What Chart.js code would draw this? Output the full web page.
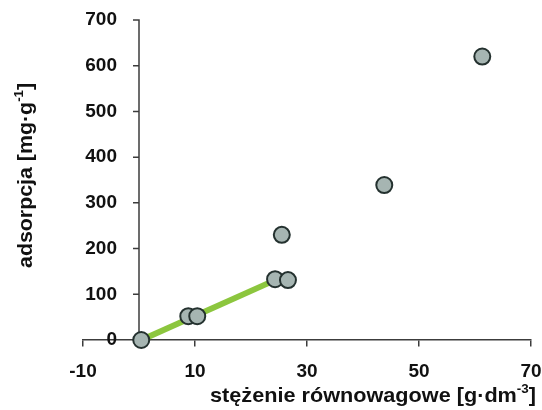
<!DOCTYPE html>
<html><head><meta charset="utf-8">
<script src="https://cdn.jsdelivr.net/npm/chart.js@4"></script>
<style>html,body{margin:0;padding:0;background:#fff}#wrap{width:542px;height:410px;position:relative}</style>
</head><body><div id="wrap"><canvas id="c"></canvas></div>
<script>
const xValues = [0.4, 8.8, 10.4, 24.3, 25.5, 26.6, 43.8, 61.3];
const yValues = [0, 52, 52, 133, 230, 131, 339, 620];
const fitX = [0.4, 24.3];
const fitY = [0, 131];
const xTicks = [-10, 10, 30, 50, 70];
const yTicks = [0, 100, 200, 300, 400, 500, 600, 700];
const xTitle = ['stężenie równowagowe [g·dm', '-3', ']'];
const yTitle = ['adsorpcja [mg·g', '-1', ']'];

const FONT = '"Liberation Sans", Arial, sans-serif';
const axisColor = '#3c3c3c';
const tickFont = { family: FONT, size: 19, weight: 'bold' };

function drawRich(ctx, segs, size, targetW) {
  const big = 'bold ' + size + 'px ' + FONT;
  const small = 'bold ' + Math.round(size * 0.6) + 'px ' + FONT;
  const widths = segs.map((s, i) => { ctx.font = (i === 1 ? small : big); return ctx.measureText(s).width; });
  const total = widths.reduce((a, b) => a + b, 0);
  const sx = targetW / total;
  ctx.scale(sx, 1);
  let x = 0;
  segs.forEach((s, i) => {
    ctx.font = (i === 1 ? small : big);
    ctx.fillText(s, x, i === 1 ? -size * 0.42 : 0);
    x += widths[i];
  });
}

// move the y labels next to x = 0
function placeLabels(chart) {
  const y = chart.scales.y;
  const px = chart.scales.x.getPixelForValue(0);
  if (!y || !isFinite(px)) return;
  y.right = px;
  y.left = px - 60;
  y._labelItems = null;
}

const crossPlugin = {
  id: 'cross',
  afterLayout(chart) { placeLabels(chart); },
  beforeDraw(chart) { placeLabels(chart); },
  beforeDatasetsDraw(chart) {
    // y axis line and tick marks at x = 0, from the library's scales
    const ctx = chart.ctx, xs = chart.scales.x, ys = chart.scales.y;
    const x0 = xs.getPixelForValue(0);
    ctx.save();
    ctx.strokeStyle = axisColor;
    ctx.lineWidth = 1.5;
    ctx.beginPath();
    ctx.moveTo(x0, ys.getPixelForValue(yTicks[yTicks.length - 1]) - 0.75);
    ctx.lineTo(x0, ys.getPixelForValue(yTicks[0]));
    yTicks.forEach(v => {
      const py = ys.getPixelForValue(v);
      ctx.moveTo(x0 - 6, py);
      ctx.lineTo(x0, py);
    });
    ctx.stroke();
    ctx.restore();
  }
};

const titlePlugin = {
  id: 'axisTitles',
  afterDraw(chart) {
    const ctx = chart.ctx;
    ctx.save();
    ctx.fillStyle = '#111';
    ctx.textBaseline = 'alphabetic';
    ctx.textAlign = 'left';
    ctx.translate(210, 402);
    drawRich(ctx, xTitle, 21, 326);
    ctx.restore();
    ctx.save();
    ctx.fillStyle = '#111';
    ctx.textBaseline = 'alphabetic';
    ctx.textAlign = 'left';
    ctx.translate(32, 268);
    ctx.rotate(-Math.PI / 2);
    drawRich(ctx, yTitle, 21, 185);
    ctx.restore();
  }
};

new Chart(document.getElementById('c'), {
  type: 'scatter',
  data: {
    datasets: [
      {
        data: xValues.map((x, i) => ({ x, y: yValues[i] })),
        pointRadius: 8, pointHoverRadius: 8,
        pointBackgroundColor: '#a6b5b2', pointBorderColor: '#24312f', pointBorderWidth: 2,
        showLine: false, order: 0, clip: false
      },
      {
        type: 'line',
        data: fitX.map((x, i) => ({ x, y: fitY[i] })),
        borderColor: '#8cc63e', borderWidth: 6, pointRadius: 0, fill: false,
        order: 1, clip: false
      }
    ]
  },
  options: {
    responsive: true, maintainAspectRatio: false, animation: false, devicePixelRatio: 1,
    layout: { padding: { left: 83, right: 11, top: 20, bottom: 70 } },
    plugins: { legend: { display: false }, tooltip: { enabled: false } },
    scales: {
      x: {
        type: 'linear', min: -10, max: 70, position: { y: 0 },
        afterBuildTicks: s => { s.ticks = xTicks.map(v => ({ value: v })); },
        afterFit: s => { s.height = 0; s.paddingLeft = 0; s.paddingRight = 0; },
        grid: { drawOnChartArea: false, drawTicks: true, tickLength: 6, color: axisColor, lineWidth: 1.5 },
        border: { display: true, color: axisColor, width: 1.5 },
        ticks: { font: tickFont, color: '#111', padding: 14, maxRotation: 0 }
      },
      y: {
        type: 'linear', min: 0, max: 700, position: 'left',
        afterBuildTicks: s => { s.ticks = yTicks.map(v => ({ value: v })); },
        afterFit: s => { s.width = 0; s.paddingTop = 0; s.paddingBottom = 0; },
        grid: { display: false, drawTicks: false },
        border: { display: false },
        ticks: { font: tickFont, color: '#111', padding: 22 }
      }
    }
  },
  plugins: [crossPlugin, titlePlugin]
});
</script>
</body></html>
